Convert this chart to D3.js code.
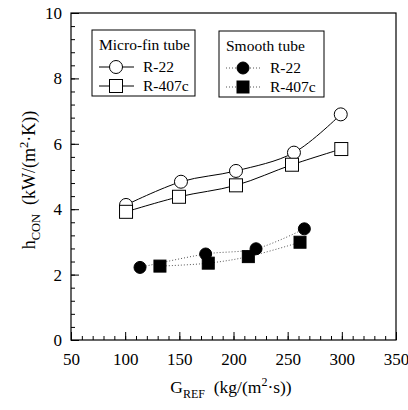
<!DOCTYPE html>
<html>
<head>
<meta charset="utf-8">
<script src="https://cdn.jsdelivr.net/npm/d3@7"></script>
<style>
  body { margin: 0; background: #fff; }
  svg text { font-family: 'Liberation Serif', 'DejaVu Serif', 'Times New Roman', Times, serif; fill: #000; }
</style>
</head>
<body>
<div id="chart"></div>
<script>
// values
const xTicks = [50, 100, 150, 200, 250, 300, 350];
const yTicks = [0, 2, 4, 6, 8, 10];

const mfR22X = [100.8, 151.5, 202.3, 255.8, 299];
const mfR22Y = [4.13, 4.84, 5.17, 5.73, 6.90];
const mfR407X = [100.8, 149.7, 202.3, 254, 299.5];
const mfR407Y = [3.92, 4.38, 4.73, 5.36, 5.84];

const smR22X = [113.7, 174.3, 220.8, 265.4];
const smR22Y = [2.22, 2.63, 2.79, 3.40];
const smR407X = [132.1, 176.7, 213.7, 261.4];
const smR407Y = [2.26, 2.35, 2.55, 2.99];

const serif = "'Liberation Serif', 'DejaVu Serif', serif";

const width = 408;
const height = 410;
const margin = { top: 13, right: 12, bottom: 70, left: 71 };

const svg = d3.select('#chart')
  .append('svg')
  .attr('width', width)
  .attr('height', height)
  .attr('font-family', serif);

const xScale = d3.scaleLinear()
  .domain([50, 350])
  .range([margin.left, width - margin.right]);

const yScale = d3.scaleLinear()
  .domain([0, 10])
  .range([height - margin.bottom, margin.top]);

// frame
svg.append('rect')
  .attr('x', xScale(50))
  .attr('y', yScale(10))
  .attr('width', xScale(350) - xScale(50))
  .attr('height', yScale(0) - yScale(10))
  .attr('fill', 'none')
  .attr('stroke', '#000')
  .attr('stroke-width', 1.2);

// ticks point inward
const xAxisMinor = d3.axisBottom(xScale)
  .tickValues(d3.range(50, 351, 10))
  .tickSize(-4)
  .tickFormat('');
const xAxisMajor = d3.axisBottom(xScale)
  .tickValues(xTicks)
  .tickSize(-8)
  .tickPadding(13)
  .tickFormat(d3.format('d'));

const yAxisMinor = d3.axisLeft(yScale)
  .tickValues(d3.range(0, 10.01, 0.4))
  .tickSize(-4)
  .tickFormat('');
const yAxisMajor = d3.axisLeft(yScale)
  .tickValues(yTicks)
  .tickSize(-8)
  .tickPadding(9)
  .tickFormat(d3.format('d'));

[xAxisMinor, xAxisMajor].forEach(ax => {
  svg.append('g')
    .attr('transform', `translate(0, ${yScale(0)})`)
    .call(ax)
    .attr('font-family', serif)
    .attr('font-size', 17)
    .call(g => g.select('.domain').remove());
});
[yAxisMinor, yAxisMajor].forEach(ax => {
  svg.append('g')
    .attr('transform', `translate(${xScale(50)}, 0)`)
    .call(ax)
    .attr('font-family', serif)
    .attr('font-size', 17)
    .call(g => g.select('.domain').remove());
});

svg.selectAll('.tick line').attr('stroke', '#000').attr('stroke-width', 1);
svg.selectAll('.tick text').attr('fill', '#000');

// series
const series = [
  { xs: mfR22X, ys: mfR22Y, shape: 'circle', filled: false, dash: null },
  { xs: mfR407X, ys: mfR407Y, shape: 'square', filled: false, dash: null },
  { xs: smR22X, ys: smR22Y, shape: 'circle', filled: true, dash: '1,2' },
  { xs: smR407X, ys: smR407Y, shape: 'square', filled: true, dash: '1,2' }
];

const line = d3.line()
  .x(d => xScale(d[0]))
  .y(d => yScale(d[1]))
  .curve(d3.curveCatmullRom.alpha(0.5));

function drawMarker(g, shape, filled, cx, cy, size) {
  if (shape === 'circle') {
    g.append('circle')
      .attr('cx', cx).attr('cy', cy).attr('r', size / 2)
      .attr('fill', filled ? '#000' : '#fff')
      .attr('stroke', '#000').attr('stroke-width', 1);
  } else {
    g.append('rect')
      .attr('x', cx - size / 2).attr('y', cy - size / 2)
      .attr('width', size).attr('height', size)
      .attr('fill', filled ? '#000' : '#fff')
      .attr('stroke', '#000').attr('stroke-width', 1);
  }
}

series.forEach(s => {
  const pts = s.xs.map((x, i) => [x, s.ys[i]]);
  svg.append('path')
    .attr('d', line(pts))
    .attr('fill', 'none')
    .attr('stroke', s.dash ? '#555' : '#000')
    .attr('stroke-width', 1)
    .attr('stroke-dasharray', s.dash);
});
series.forEach(s => {
  const g = svg.append('g');
  s.xs.forEach((x, i) => {
    drawMarker(g, s.shape, s.filled, xScale(x), yScale(s.ys[i]), s.filled ? 12 : 13);
  });
});

// legends
function legend(x0, y0, w, h, title, rows, dash) {
  const g = svg.append('g');
  g.append('rect')
    .attr('x', x0).attr('y', y0).attr('width', w).attr('height', h)
    .attr('fill', '#fff').attr('stroke', '#000').attr('stroke-width', 1);
  g.append('text')
    .attr('x', x0 + 7).attr('y', y0 + 20)
    .attr('font-size', 15.5)
    .text(title);
  rows.forEach((r, i) => {
    const cy = y0 + 37 + i * 19;
    g.append('line')
      .attr('x1', x0 + 7).attr('x2', x0 + 42)
      .attr('y1', cy).attr('y2', cy)
      .attr('stroke', dash ? '#555' : '#000')
      .attr('stroke-dasharray', dash);
    drawMarker(g, r.shape, r.filled, x0 + 24, cy, r.filled ? 12 : 13);
    g.append('text')
      .attr('x', x0 + 51).attr('y', cy + 5)
      .attr('font-size', 15.5)
      .text(r.label);
  });
}

legend(92, 30, 103, 66, 'Micro-fin tube', [
  { label: 'R-22', shape: 'circle', filled: false },
  { label: 'R-407c', shape: 'square', filled: false }
], null);

legend(219, 31, 105, 66, 'Smooth tube', [
  { label: 'R-22', shape: 'circle', filled: true },
  { label: 'R-407c', shape: 'square', filled: true }
], '1,2');

// axis titles
const xt = svg.append('text')
  .attr('x', 231).attr('y', 393)
  .attr('text-anchor', 'middle')
  .attr('font-size', 17.5);
xt.append('tspan').text('G');
xt.append('tspan').attr('dy', 5).attr('font-size', 12).text('REF');
xt.append('tspan').attr('dy', -5).text('\u00a0\u00a0(kg/(m');
xt.append('tspan').attr('dy', -7).attr('font-size', 12).text('2');
xt.append('tspan').attr('dy', 7).text('·s))');

const yt = svg.append('text')
  .attr('transform', 'translate(35, 180) rotate(-90)')
  .attr('text-anchor', 'middle')
  .attr('font-size', 18);
yt.append('tspan').text('h');
yt.append('tspan').attr('dy', 5).attr('font-size', 12.5).text('CON');
yt.append('tspan').attr('dy', -5).text('\u00a0\u00a0(kW/(m');
yt.append('tspan').attr('dy', -7).attr('font-size', 12.5).text('2');
yt.append('tspan').attr('dy', 7).text('·K))');
</script>
</body>
</html>
